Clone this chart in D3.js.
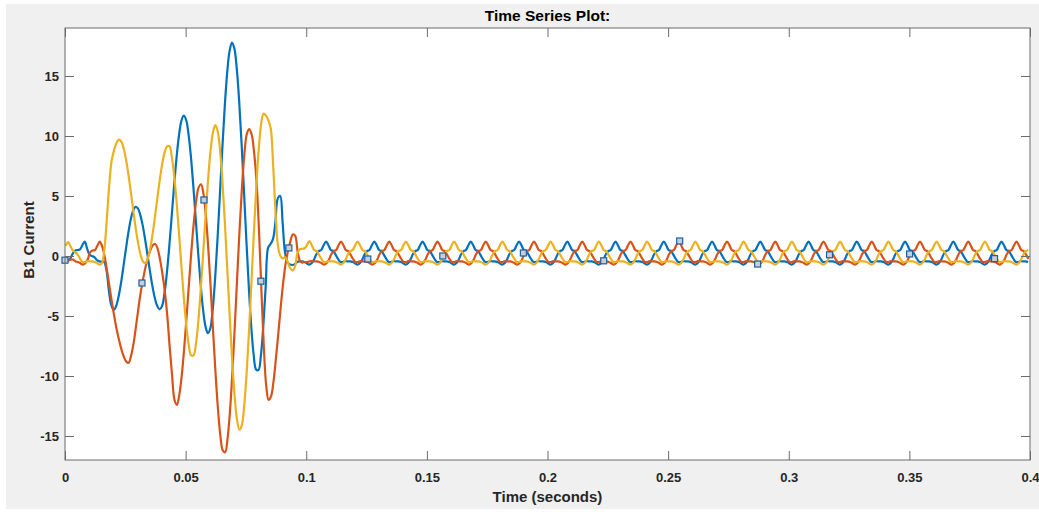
<!DOCTYPE html>
<html>
<head>
<meta charset="utf-8">
<script src="https://cdn.jsdelivr.net/npm/d3@7"></script>
<style>
html,body{margin:0;padding:0;background:#ffffff;overflow:hidden;}
svg{display:block;}
</style>
</head>
<body>
<svg id="chart" width="1039" height="512"></svg>
<script>
// ---------- data ----------
const titleText = "Time Series Plot:";
const xLabelText = "Time (seconds)";
const yLabelText = "B1 Current";

const xTicks = [0, 0.05, 0.1, 0.15, 0.2, 0.25, 0.3, 0.35, 0.4];
const xTickLabels = ["0", "0.05", "0.1", "0.15", "0.2", "0.25", "0.3", "0.35", "0.4"];
const yTicks = [-15, -10, -5, 0, 5, 10, 15];
const yTickLabels = ["-15", "-10", "-5", "0", "5", "10", "15"];

// samples every 1 ms; each series starts at its own first sample time (s)
const sampleStep = 0.001;
const blueStart = 0.0002;
const orangeStart = 0.0004;
const yellowStart = 0.0003;

const blueValues = [
 -0.35,-0.4,-0.2,0.2,0.45,0.5,0.55,0.9,1.2,0.6,
 0.1,0,-0.1,-0.35,-0.45,-0.47,-0.5,-1.2,-2.9,-4.1,
 -4.5,-4.16,-3.39,-2.27,-0.91,0.51,1.87,2.99,3.76,4.09,
 3.97,3.43,2.55,1.4,0.09,-1.24,-2.47,-3.47,-4.15,-4.44,
 -4.19,-3.17,-1.46,0.74,3.25,5.78,8.11,9.98,11.22,11.7,
 11.35,10.16,8.26,5.8,3.05,0.26,-2.31,-4.41,-5.83,-6.43,
 -6.06,-4.52,-1.96,1.35,5.1,8.91,12.4,15.22,17.07,17.79,
 17.3,15.61,12.87,9.35,5.35,1.22,-2.61,-5.89,-8.22,-9.45,
 -9.5,-8.3,-5.8,-2.5,0.7,1.0,1.4,2.8,4.8,5.0,
 2.8,0.3,-0.5,-0.7,-0.75,-0.7,-0.5,-0.45,
 -0.45,-0.5,-0.6,-0.72,-0.6,-0.3,0.15,0.4,0.5,0.9,1.2,0.9,0.5,0.4,0.1,-0.25,-0.5,-0.5,-0.42,-0.45,
 -0.45,-0.5,-0.6,-0.72,-0.6,-0.3,0.15,0.4,0.5,0.9,1.2,0.9,0.5,0.4,0.1,-0.25,-0.5,-0.5,-0.42,-0.45,
 -0.45,-0.5,-0.6,-0.72,-0.6,-0.3,0.15,0.4,0.5,0.9,1.2,0.9,0.5,0.4,0.1,-0.25,-0.5,-0.5,-0.42,-0.45,
 -0.45,-0.5,-0.6,-0.72,-0.6,-0.3,0.15,0.4,0.5,0.9,1.2,0.9,0.5,0.4,0.1,-0.25,-0.5,-0.5,-0.42,-0.45,
 -0.45,-0.5,-0.6,-0.72,-0.6,-0.3,0.15,0.4,0.5,0.9,1.2,0.9,0.5,0.4,0.1,-0.25,-0.5,-0.5,-0.42,-0.45,
 -0.45,-0.5,-0.6,-0.72,-0.6,-0.3,0.15,0.4,0.5,0.9,1.2,0.9,0.5,0.4,0.1,-0.25,-0.5,-0.5,-0.42,-0.45,
 -0.45,-0.5,-0.6,-0.72,-0.6,-0.3,0.15,0.4,0.5,0.9,1.2,0.9,0.5,0.4,0.1,-0.25,-0.5,-0.5,-0.42,-0.45,
 -0.45,-0.5,-0.6,-0.72,-0.6,-0.3,0.15,0.4,0.5,0.9,1.2,0.9,0.5,0.4,0.1,-0.25,-0.5,-0.5,-0.42,-0.45,
 -0.45,-0.5,-0.6,-0.72,-0.6,-0.3,0.15,0.4,0.5,0.9,1.2,0.9,0.5,0.4,0.1,-0.25,-0.5,-0.5,-0.42,-0.45,
 -0.45,-0.5,-0.6,-0.72,-0.6,-0.3,0.15,0.4,0.5,0.9,1.2,0.9,0.5,0.4,0.1,-0.25,-0.5,-0.5,-0.42,-0.45,
 -0.45,-0.5,-0.6,-0.72,-0.6,-0.3,0.15,0.4,0.5,0.9,1.2,0.9,0.5,0.4,0.1,-0.25,-0.5,-0.5,-0.42,-0.45,
 -0.45,-0.5,-0.6,-0.72,-0.6,-0.3,0.15,0.4,0.5,0.9,1.2,0.9,0.5,0.4,0.1,-0.25,-0.5,-0.5,-0.42,-0.45,
 -0.45,-0.5,-0.6,-0.72,-0.6,-0.3,0.15,0.4,0.5,0.9,1.2,0.9,0.5,0.4,0.1,-0.25,-0.5,-0.5,-0.42,-0.45,
 -0.45,-0.5,-0.6,-0.72,-0.6,-0.3,0.15,0.4,0.5,0.9,1.2,0.9,0.5,0.4,0.1,-0.25,-0.5,-0.5,-0.42,-0.45,
 -0.45,-0.5,-0.6,-0.72,-0.6,-0.3,0.15,0.4,0.5,0.9,1.2,0.9,0.5,0.4,0.1,-0.25,-0.5,-0.5,-0.42,-0.45,
 -0.45,-0.5
];

const orangeValues = [
 -0.3,-0.35,-0.3,-0.3,-0.45,-0.5,-0.6,-0.72,-0.6,-0.3,
 0.3,0.45,0.5,0.85,1.2,0.8,0,-1.2,-2.5,-3.8,
 -5,-6.1,-7,-7.8,-8.4,-8.8,-8.9,-8.3,-7.3,-5.9,
 -4.4,-3,-1.9,-0.9,-0.1,0.5,0.9,1,0.6,-0.3,
 -1.5,-3,-5,-7.6,-10,-12,-12.4,-11.55,-9.94,-7.71,
 -5.06,-2.26,0.45,2.81,4.64,5.72,5.98,5.18,3.33,0.6,
 -2.71,-6.29,-9.75,-12.73,-14.96,-16.2,-16.35,-15.17,-12.89,-9.65,
 -5.79,-1.66,2.35,5.88,8.59,10.2,10.57,10.1,8.6,6.2,
 2.2,-2.8,-7.5,-10.8,-12,-11.7,-10.5,-8.6,-6.5,-4.3,
 -2.3,-0.7,0.4,1.2,1.8,1.7,0.4,-0.4,-0.55,-0.5,
 -0.5,-0.45,-0.42,-0.45,
 -0.45,-0.5,-0.6,-0.72,-0.6,-0.3,0.15,0.4,0.5,0.9,1.2,0.9,0.5,0.4,0.1,-0.25,-0.5,-0.5,-0.42,-0.45,
 -0.45,-0.5,-0.6,-0.72,-0.6,-0.3,0.15,0.4,0.5,0.9,1.2,0.9,0.5,0.4,0.1,-0.25,-0.5,-0.5,-0.42,-0.45,
 -0.45,-0.5,-0.6,-0.72,-0.6,-0.3,0.15,0.4,0.5,0.9,1.2,0.9,0.5,0.4,0.1,-0.25,-0.5,-0.5,-0.42,-0.45,
 -0.45,-0.5,-0.6,-0.72,-0.6,-0.3,0.15,0.4,0.5,0.9,1.2,0.9,0.5,0.4,0.1,-0.25,-0.5,-0.5,-0.42,-0.45,
 -0.45,-0.5,-0.6,-0.72,-0.6,-0.3,0.15,0.4,0.5,0.9,1.2,0.9,0.5,0.4,0.1,-0.25,-0.5,-0.5,-0.42,-0.45,
 -0.45,-0.5,-0.6,-0.72,-0.6,-0.3,0.15,0.4,0.5,0.9,1.2,0.9,0.5,0.4,0.1,-0.25,-0.5,-0.5,-0.42,-0.45,
 -0.45,-0.5,-0.6,-0.72,-0.6,-0.3,0.15,0.4,0.5,0.9,1.2,0.9,0.5,0.4,0.1,-0.25,-0.5,-0.5,-0.42,-0.45,
 -0.45,-0.5,-0.6,-0.72,-0.6,-0.3,0.15,0.4,0.5,0.9,1.2,0.9,0.5,0.4,0.1,-0.25,-0.5,-0.5,-0.42,-0.45,
 -0.45,-0.5,-0.6,-0.72,-0.6,-0.3,0.15,0.4,0.5,0.9,1.2,0.9,0.5,0.4,0.1,-0.25,-0.5,-0.5,-0.42,-0.45,
 -0.45,-0.5,-0.6,-0.72,-0.6,-0.3,0.15,0.4,0.5,0.9,1.2,0.9,0.5,0.4,0.1,-0.25,-0.5,-0.5,-0.42,-0.45,
 -0.45,-0.5,-0.6,-0.72,-0.6,-0.3,0.15,0.4,0.5,0.9,1.2,0.9,0.5,0.4,0.1,-0.25,-0.5,-0.5,-0.42,-0.45,
 -0.45,-0.5,-0.6,-0.72,-0.6,-0.3,0.15,0.4,0.5,0.9,1.2,0.9,0.5,0.4,0.1,-0.25,-0.5,-0.5,-0.42,-0.45,
 -0.45,-0.5,-0.6,-0.72,-0.6,-0.3,0.15,0.4,0.5,0.9,1.2,0.9,0.5,0.4,0.1,-0.25,-0.5,-0.5,-0.42,-0.45,
 -0.45,-0.5,-0.6,-0.72,-0.6,-0.3,0.15,0.4,0.5,0.9,1.2,0.9,0.5,0.4,0.1,-0.25,-0.5,-0.5,-0.42,-0.45,
 -0.45,-0.5,-0.6,-0.72,-0.6,-0.3,0.15,0.4,0.5,0.9,1.2,0.9,0.5,0.4,0.1,-0.25
];

const yellowValues = [
 0.85,1.15,0.8,0.45,0.3,0.1,-0.25,-0.5,-0.5,-0.42,
 -0.45,-0.45,-0.5,-0.6,-0.72,-0.6,0.5,3,5.8,7.9,
 8.8,9.4,9.7,9.55,8.98,8.03,6.77,5.31,3.79,2.33,
 1.08,0.12,-0.46,-0.6,-0.23,0.6,1.81,3.28,4.85,6.37,
 7.68,8.63,9.14,9.15,8.24,6.62,4.4,1.78,-0.98,-3.6,
 -5.82,-7.44,-8.29,-8.29,-7.26,-5.35,-2.72,0.3,3.44,6.34,
 8.71,10.28,10.9,10.4,8.74,6.09,2.65,-1.2,-5.11,-8.71,
 -11.64,-13.64,-14.47,-14.09,-12.44,-9.71,-6.16,-2.13,1.99,5.78,
 8.88,10.98,11.87,11.7,11.3,10.6,7.5,3.5,0.8,0,
 -0.2,-0.1,-0.5,-1,-1.2,-0.9,0.2,0.55,0.6,0.65,
 0.9,1.25,0.9,0.5,0.4,0.1,-0.25,-0.5,-0.5,-0.42,-0.45,
 -0.45,-0.5,-0.6,-0.72,-0.6,-0.3,0.15,0.4,0.5,0.9,1.2,0.9,0.5,0.4,0.1,-0.25,-0.5,-0.5,-0.42,-0.45,
 -0.45,-0.5,-0.6,-0.72,-0.6,-0.3,0.15,0.4,0.5,0.9,1.2,0.9,0.5,0.4,0.1,-0.25,-0.5,-0.5,-0.42,-0.45,
 -0.45,-0.5,-0.6,-0.72,-0.6,-0.3,0.15,0.4,0.5,0.9,1.2,0.9,0.5,0.4,0.1,-0.25,-0.5,-0.5,-0.42,-0.45,
 -0.45,-0.5,-0.6,-0.72,-0.6,-0.3,0.15,0.4,0.5,0.9,1.2,0.9,0.5,0.4,0.1,-0.25,-0.5,-0.5,-0.42,-0.45,
 -0.45,-0.5,-0.6,-0.72,-0.6,-0.3,0.15,0.4,0.5,0.9,1.2,0.9,0.5,0.4,0.1,-0.25,-0.5,-0.5,-0.42,-0.45,
 -0.45,-0.5,-0.6,-0.72,-0.6,-0.3,0.15,0.4,0.5,0.9,1.2,0.9,0.5,0.4,0.1,-0.25,-0.5,-0.5,-0.42,-0.45,
 -0.45,-0.5,-0.6,-0.72,-0.6,-0.3,0.15,0.4,0.5,0.9,1.2,0.9,0.5,0.4,0.1,-0.25,-0.5,-0.5,-0.42,-0.45,
 -0.45,-0.5,-0.6,-0.72,-0.6,-0.3,0.15,0.4,0.5,0.9,1.2,0.9,0.5,0.4,0.1,-0.25,-0.5,-0.5,-0.42,-0.45,
 -0.45,-0.5,-0.6,-0.72,-0.6,-0.3,0.15,0.4,0.5,0.9,1.2,0.9,0.5,0.4,0.1,-0.25,-0.5,-0.5,-0.42,-0.45,
 -0.45,-0.5,-0.6,-0.72,-0.6,-0.3,0.15,0.4,0.5,0.9,1.2,0.9,0.5,0.4,0.1,-0.25,-0.5,-0.5,-0.42,-0.45,
 -0.45,-0.5,-0.6,-0.72,-0.6,-0.3,0.15,0.4,0.5,0.9,1.2,0.9,0.5,0.4,0.1,-0.25,-0.5,-0.5,-0.42,-0.45,
 -0.45,-0.5,-0.6,-0.72,-0.6,-0.3,0.15,0.4,0.5,0.9,1.2,0.9,0.5,0.4,0.1,-0.25,-0.5,-0.5,-0.42,-0.45,
 -0.45,-0.5,-0.6,-0.72,-0.6,-0.3,0.15,0.4,0.5,0.9,1.2,0.9,0.5,0.4,0.1,-0.25,-0.5,-0.5,-0.42,-0.45,
 -0.45,-0.5,-0.6,-0.72,-0.6,-0.3,0.15,0.4,0.5,0.9,1.2,0.9,0.5,0.4,0.1,-0.25,-0.5,-0.5,-0.42,-0.45,
 -0.45,-0.5,-0.6,-0.72,-0.6,-0.3,0.15,0.4,0.5
];

// data-tip markers (time s, value)
const markerTimes  = [0, 0.0319, 0.0576, 0.0812, 0.0928, 0.1255, 0.1566, 0.19, 0.2233, 0.2548, 0.2871, 0.3169, 0.3501, 0.3853];
const markerValues = [-0.35, -2.25, 4.67, -2.1, 0.67, -0.25, 0, 0.25, -0.4, 1.25, -0.67, 0.1, 0.17, -0.22];

// ---------- drawing ----------
const W = 1039, H = 512;
const plot = {left: 65, right: 1030, top: 28, bottom: 460};
const svg = d3.select("#chart");

const x = d3.scaleLinear().domain([0, 0.4]).range([plot.left, plot.right]);
const y = d3.scaleLinear().domain([-17, 19]).range([plot.bottom, plot.top]);

const FONT = "'Liberation Sans', Arial, Helvetica, sans-serif";
const TXT = "#262626";
const AX = "#6a6a6a";

// figure background
svg.append("rect").attr("x", 0).attr("y", 0).attr("width", W).attr("height", H).attr("fill", "#ffffff");
svg.append("rect").attr("x", 6).attr("y", 4).attr("width", W - 6).attr("height", 505).attr("fill", "#f0f0f0");

// axes area
svg.append("rect").attr("x", plot.left).attr("y", plot.top)
  .attr("width", plot.right - plot.left).attr("height", plot.bottom - plot.top)
  .attr("fill", "#ffffff");

svg.append("clipPath").attr("id", "clip").append("rect")
  .attr("x", plot.left).attr("y", plot.top)
  .attr("width", plot.right - plot.left).attr("height", plot.bottom - plot.top);

const series = [
  {values: blueValues, start: blueStart, color: "#0072BD"},
  {values: orangeValues, start: orangeStart, color: "#D95319"},
  {values: yellowValues, start: yellowStart, color: "#EDB120"}
];

const gLines = svg.append("g").attr("clip-path", "url(#clip)");
series.forEach(s => {
  const line = d3.line()
    .x((d, i) => x(s.start + i * sampleStep))
    .y(d => y(d))
    .curve(d3.curveCatmullRom.alpha(0.5));
  gLines.append("path").datum(s.values)
    .attr("fill", "none").attr("stroke", s.color)
    .attr("stroke-width", 2.2).attr("stroke-linejoin", "round")
    .attr("d", line);
});

// markers
const markers = markerTimes.map((t, i) => ({t, v: markerValues[i]}));
svg.append("g").selectAll("rect").data(markers).join("rect")
  .attr("x", d => x(d.t) - 3).attr("y", d => y(d.v) - 3)
  .attr("width", 6).attr("height", 6)
  .attr("fill", "#c6ced6").attr("stroke", "#1f5f9e").attr("stroke-width", 1.2);

// ticks (inward) on all four sides
function styleAxis(g) {
  g.select(".domain").remove();
  g.selectAll(".tick line").attr("stroke", AX).attr("stroke-width", 1);
  g.selectAll(".tick text").attr("fill", TXT).attr("font-family", FONT)
    .attr("font-weight", "bold").attr("font-size", 13);
}
const tickLen = 9;
svg.append("g").attr("transform", `translate(0,${plot.bottom})`)
  .call(d3.axisBottom(x).tickValues(xTicks).tickFormat((d, i) => xTickLabels[i]).tickSize(-tickLen).tickPadding(13))
  .call(styleAxis);
svg.append("g").attr("transform", `translate(0,${plot.top})`)
  .call(d3.axisTop(x).tickValues(xTicks).tickFormat("").tickSize(-tickLen))
  .call(styleAxis);
svg.append("g").attr("transform", `translate(${plot.left},0)`)
  .call(d3.axisLeft(y).tickValues(yTicks).tickFormat((d, i) => yTickLabels[i]).tickSize(-tickLen).tickPadding(6))
  .call(styleAxis);
svg.append("g").attr("transform", `translate(${plot.right},0)`)
  .call(d3.axisRight(y).tickValues(yTicks).tickFormat("").tickSize(-tickLen))
  .call(styleAxis);

// box
svg.append("rect").attr("x", plot.left).attr("y", plot.top)
  .attr("width", plot.right - plot.left).attr("height", plot.bottom - plot.top)
  .attr("fill", "none").attr("stroke", AX).attr("stroke-width", 1);

// title and labels
svg.append("text").attr("x", (plot.left + plot.right) / 2).attr("y", 20.5)
  .attr("text-anchor", "middle").attr("font-family", FONT).attr("font-weight", "bold")
  .attr("font-size", 15.5).attr("fill", "#000").text(titleText);
svg.append("text").attr("x", (plot.left + plot.right) / 2).attr("y", 502)
  .attr("text-anchor", "middle").attr("font-family", FONT).attr("font-weight", "bold")
  .attr("font-size", 15).attr("fill", TXT).text(xLabelText);
svg.append("text").attr("transform", "translate(34,240) rotate(-90)")
  .attr("text-anchor", "middle").attr("font-family", FONT).attr("font-weight", "bold")
  .attr("font-size", 15).attr("fill", TXT).text(yLabelText);
</script>
</body>
</html>
